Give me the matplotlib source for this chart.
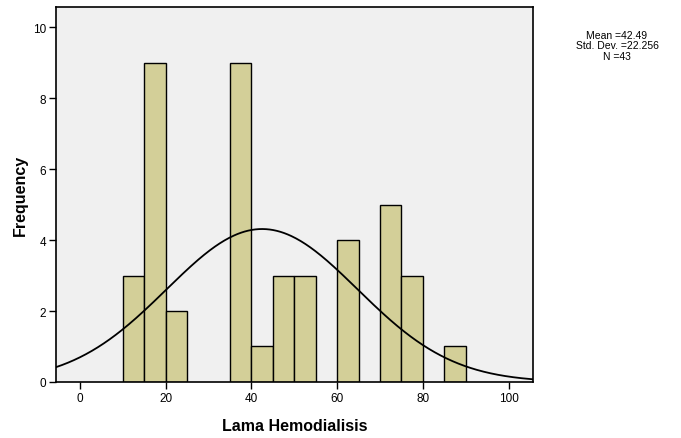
"""Histogram of Lama Hemodialisis with fitted normal curve (SPSS style)."""

import numpy as np
import matplotlib
matplotlib.use("Agg")
import matplotlib.pyplot as plt

plt.rcParams["font.family"] = ["Liberation Sans", "DejaVu Sans"]

# bin edges (width 5) and counts
bin_left = [10, 15, 20, 35, 40, 45, 50, 60, 70, 75, 85]
counts = [3, 9, 2, 9, 1, 3, 3, 4, 5, 3, 1]
bin_width = 5

mean_val = 42.49
sd_val = 22.256
n_val = 43
curve_peak = 4.31  # height of the normal curve at the mean

x_ticks = [0, 20, 40, 60, 80, 100]
y_ticks = [0, 2, 4, 6, 8, 10]

fig = plt.figure(figsize=(6.81, 4.39), dpi=100)
ax = fig.add_axes([0.0822, 0.1276, 0.6998, 0.8553])
ax.set_facecolor("#F0F0F0")

ax.bar(bin_left, counts, width=bin_width, align="edge",
       color="#D3CF98", edgecolor="black", linewidth=1.0, zorder=2)

xs = np.linspace(-5.6, 105.6, 400)
ys = curve_peak * np.exp(-0.5 * ((xs - mean_val) / sd_val) ** 2)
ax.plot(xs, ys, color="black", linewidth=1.3, zorder=3)

ax.set_xlim(-5.6, 105.6)
ax.set_ylim(0, 10.58)
ax.set_xticks(x_ticks)
ax.set_yticks(y_ticks)
ax.tick_params(direction="out", length=5, width=1, labelsize=8.5, pad=2)
for s in ax.spines.values():
    s.set_linewidth(1.2)

ax.set_xlabel("Lama Hemodialisis", fontsize=11.5, fontweight="bold", labelpad=10)
ax.set_ylabel("Frequency", fontsize=11.5, fontweight="bold", labelpad=4)

fig.text(0.906, 0.93, f"Mean ={mean_val}\nStd. Dev. ={sd_val}\nN ={n_val}",
         ha="center", va="top", fontsize=7.5, linespacing=1.05)

fig.savefig("out.png", dpi=100)
plt.close(fig)
